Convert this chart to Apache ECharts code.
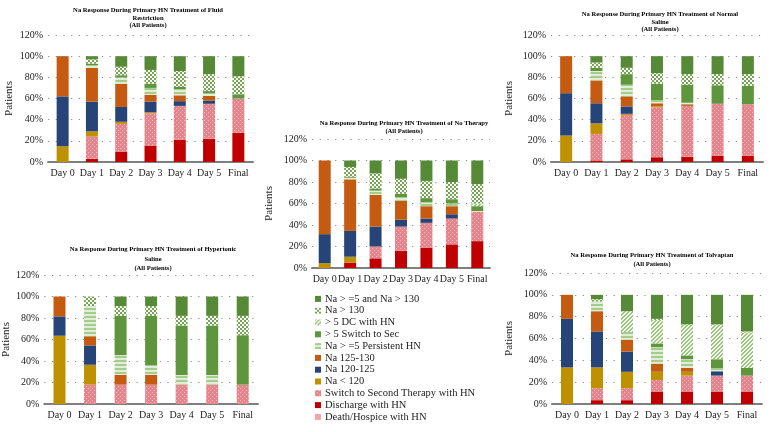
<!DOCTYPE html>
<html>
<head>
<meta charset="utf-8">
<script src="https://cdn.jsdelivr.net/npm/echarts@6/dist/echarts.min.js"></script>
<style>
  html, body { margin: 0; padding: 0; background: #fff; }
  #main { width: 771px; height: 432px; }
</style>
</head>
<body>
<div id="main"></div>
<script>
// categories / legend names
const days = ['Day 0', 'Day 1', 'Day 2', 'Day 3', 'Day 4', 'Day 5', 'Final']
// stack order, bottom -> top
const seriesNames = [
    'Death/Hospice with HN',
    'Discharge with HN',
    'Switch to Second Therapy with HN',
    'Na < 120',
    'Na 120-125',
    'Na 125-130',
    'Na > =5 Persistent HN',
    '> 5 Switch to Sec',
    '> 5 DC with HN',
    'Na > 130',
    'Na > =5 and Na > 130'
]
const yTicks = [0, 20, 40, 60, 80, 100, 120]

// % of patients per segment, one row per series (same order as seriesNames)
const fluidRestriction = [
    [0, 0, 0, 0, 0, 0, 0],
    [0, 3, 9.5, 15.5, 21, 22, 27.5],
    [0, 21, 26.5, 30.5, 32, 33, 32.5],
    [15, 5, 2, 1, 0, 0, 0],
    [47, 28, 14, 10, 4.5, 3, 0],
    [38, 32, 22, 6.5, 5.5, 4.5, 0],
    [0, 2.5, 6, 6.5, 6, 2.5, 0],
    [0, 1.5, 2, 4, 2, 2, 4],
    [0, 0, 0, 0, 0, 0, 0],
    [0, 4, 8, 13, 15, 16, 17],
    [0, 3, 10, 13, 14, 17, 19]
]
const noTherapy = [
    [0, 0, 0, 0, 0, 0, 0],
    [0, 5, 9, 16, 19, 22, 25],
    [0, 0, 11, 22.5, 23, 24, 27.5],
    [4.5, 5.5, 0, 0, 0, 0, 0],
    [27, 24, 18.5, 6.5, 4, 4, 0],
    [68.5, 48, 29.5, 17.5, 11.5, 7.5, 0],
    [0, 1.5, 4, 3.5, 3.5, 2.5, 0.5],
    [0, 1, 2, 3, 4, 4, 4.5],
    [0, 0, 0, 0, 0, 0, 2.5],
    [0, 9, 14, 14, 16, 16, 18],
    [0, 6, 12, 17, 19, 20, 22]
]
const normalSaline = [
    [0, 0, 0, 0, 0, 0, 0],
    [0, 1.5, 2.5, 4.5, 5, 6, 6],
    [0, 25, 42, 47, 48, 49, 48.5],
    [25, 10, 1, 1, 0, 0, 0],
    [40, 19, 7, 0, 0, 0, 0],
    [35, 21.5, 9.5, 3, 1.5, 0, 0],
    [0, 9, 11, 3, 1.5, 0, 0],
    [0, 3, 10, 15.5, 17, 17.5, 17.5],
    [0, 0, 0, 0, 0, 0, 0],
    [0, 5, 6, 10, 10, 10.5, 11],
    [0, 6, 11, 16, 17, 17, 17]
]
const hypertonicSaline = [
    [0, 0, 0, 0, 0, 0, 0],
    [0, 0, 0, 0, 0, 0, 0],
    [0, 18, 18, 18, 18, 18, 18],
    [63.5, 18.5, 0, 0, 0, 0, 0],
    [18, 18, 0, 0, 0, 0, 0],
    [18.5, 8.5, 9, 9, 0, 0, 0],
    [0, 28, 18.5, 9, 9, 9, 0],
    [0, 0, 36.5, 46, 46, 46, 46],
    [0, 0, 0, 0, 0, 0, 0],
    [0, 9, 9, 9, 9, 9, 18],
    [0, 0, 9, 9, 18, 18, 18]
]
const tolvaptan = [
    [0, 0, 0, 0, 0, 0, 0],
    [0, 3.5, 3.5, 11, 11, 11, 11],
    [0, 11, 11, 11, 15, 15, 15],
    [33.5, 19, 15, 7.5, 3.5, 0, 0],
    [44.5, 33, 18.5, 0, 0, 4, 0],
    [22, 18.5, 11, 7.5, 3.5, 0, 0],
    [0, 9, 7, 15, 8, 3, 0],
    [0, 0, 0, 3.5, 3.5, 8, 7],
    [0, 0, 19, 21.5, 28, 31.5, 32.5],
    [0, 2, 0, 1, 0.5, 0.5, 1],
    [0, 4, 15, 22, 27, 27, 33.5]
]

const FONT = '"Liberation Serif", "DejaVu Serif", serif'

// little canvas tiles for the excel-like fill patterns
function makePattern(w, h, draw) {
    const c = document.createElement('canvas')
    c.width = w
    c.height = h
    const ctx = c.getContext('2d')
    draw(ctx)
    return { image: c, repeat: 'repeat' }
}
const pinkDots = makePattern(4, 4, (ctx) => {
    ctx.fillStyle = '#e7848b'
    ctx.fillRect(0, 0, 4, 4)
    ctx.fillStyle = '#f7c3c6'
    ctx.fillRect(0, 0, 1, 1)
    ctx.fillRect(2, 2, 1, 1)
})
const lightStripes = makePattern(1, 4, (ctx) => {
    ctx.fillStyle = '#a6cc8b'
    ctx.fillRect(0, 0, 1, 2)
    ctx.fillStyle = '#e1eed7'
    ctx.fillRect(0, 2, 1, 2)
})
const diagHatch = makePattern(4, 4, (ctx) => {
    ctx.fillStyle = '#f2f8ee'
    ctx.fillRect(0, 0, 4, 4)
    ctx.fillStyle = '#9cc47f'
    for (let i = 0; i < 4; i++) {
        ctx.fillRect(i, 3 - i, 1, 1)
        ctx.fillRect(i, (4 - i) % 4, 1, 1)
    }
})
const checker = makePattern(4, 4, (ctx) => {
    ctx.fillStyle = '#ffffff'
    ctx.fillRect(0, 0, 4, 4)
    ctx.fillStyle = '#74a551'
    ctx.fillRect(0, 0, 2, 2)
    ctx.fillRect(2, 2, 2, 2)
})

const seriesColors = [
    '#f0a6aa',
    '#c00000',
    pinkDots,
    '#bf9000',
    '#264478',
    '#c55a11',
    lightStripes,
    '#5f963d',
    diagHatch,
    checker,
    '#578a37'
]

// grid boxes: [left, top, width, height], gap = distance of the "Patients" name
const panels = [
    { data: fluidRestriction, box: [48, 35, 205, 127], gap: 33 },
    { data: noTherapy, box: [312, 139, 178, 129], gap: 37 },
    { data: normalSaline, box: [551, 35, 212, 127], gap: 36 },
    { data: hypertonicSaline, box: [43, 275, 215, 129], gap: 31 },
    { data: tolvaptan, box: [552, 273, 210, 131], gap: 37 }
]

const titles = [
    { x: 148, y: 7, lh: 7.4, text: 'Na Response During Primary HN Treatment of Fluid\nRestriction\n(All Patients)' },
    { x: 404, y: 119, lh: 8, text: 'Na Response During Primary HN Treatment of No Therapy\n(All Patients)' },
    { x: 660, y: 11, lh: 7.4, text: 'Na Response During Primary HN Treatment of Normal\nSaline\n(All Patients)' },
    { x: 153, y: 245, lh: 9.5, text: 'Na Response During Primary HN Treatment of Hypertonic\nSaline\n(All Patients)' },
    { x: 652, y: 251, lh: 9, text: 'Na Response During Primary HN Treatment of Tolvaptan\n(All Patients)' }
]

const grid = []
const xAxis = []
const yAxis = []
const series = []

panels.forEach((p, pi) => {
    grid.push({ left: p.box[0], top: p.box[1], width: p.box[2], height: p.box[3], containLabel: false })
    xAxis.push({
        type: 'category',
        gridIndex: pi,
        data: days,
        axisLine: { lineStyle: { color: '#7f7f7f', width: 2 } },
        axisTick: { show: false },
        axisLabel: { color: '#222', fontFamily: FONT, fontSize: 10, margin: 6, interval: 0 }
    })
    yAxis.push({
        type: 'value',
        gridIndex: pi,
        min: yTicks[0],
        max: yTicks[yTicks.length - 1],
        interval: 20,
        name: 'Patients',
        nameLocation: 'middle',
        nameGap: p.gap,
        nameTextStyle: { color: '#222', fontFamily: FONT, fontSize: 11 },
        axisLine: { show: false },
        axisTick: { show: false },
        axisLabel: { color: '#222', fontFamily: FONT, fontSize: 10, margin: 5, formatter: '{value}%' },
        splitLine: { lineStyle: { color: '#8c8c8c', type: [1.2, 6.5], width: 1.2 } }
    })
    seriesNames.forEach((name, si) => {
        series.push({
            name: name,
            type: 'bar',
            stack: 'p' + pi,
            xAxisIndex: pi,
            yAxisIndex: pi,
            barWidth: 12,
            itemStyle: { color: seriesColors[si] },
            emphasis: { disabled: true },
            data: p.data[si]
        })
    })
})

const graphic = titles.map((t) => ({
    type: 'text',
    x: t.x,
    y: t.y,
    style: {
        text: t.text,
        align: 'center',
        verticalAlign: 'top',
        fill: '#000',
        font: 'bold 6.6px ' + FONT,
        lineHeight: t.lh
    }
}))

const myChart = echarts.init(document.getElementById('main'), null, { renderer: 'canvas' })
myChart.setOption({
    animation: false,
    backgroundColor: '#ffffff',
    grid: grid,
    xAxis: xAxis,
    yAxis: yAxis,
    legend: {
        orient: 'vertical',
        left: 315,
        top: 293,
        height: 138,
        padding: 0,
        itemWidth: 6,
        itemHeight: 6,
        itemGap: 0,
        icon: 'rect',
        selectedMode: false,
        data: seriesNames.slice().reverse(),
        textStyle: { color: '#222', fontFamily: FONT, fontSize: 10.5, lineHeight: 11.8, padding: [0, 0, 0, -1] }
    },
    graphic: graphic,
    series: series
})
</script>
</body>
</html>
